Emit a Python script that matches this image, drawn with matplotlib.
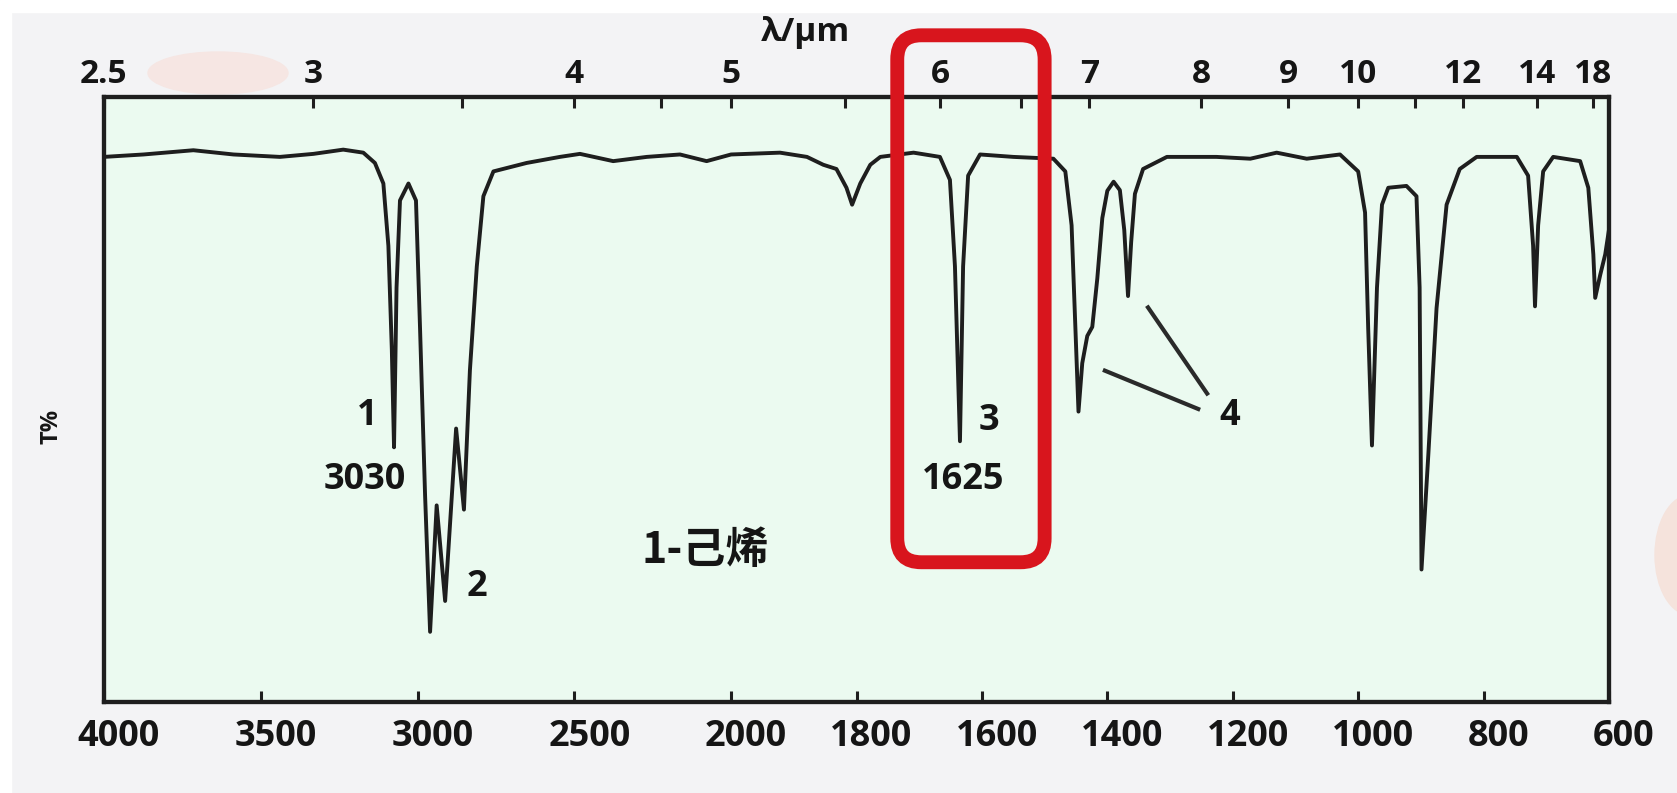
import numpy as np
import matplotlib.pyplot as plt
from matplotlib.patches import FancyBboxPatch, Ellipse, Rectangle
from matplotlib.transforms import ScaledTranslation, IdentityTransform

plt.rcParams['font.family'] = ['Open Sans', 'Noto Sans CJK SC', 'DejaVu Sans']
plt.rcParams['font.weight'] = 'bold'

# IR spectrum of 1-hexene (cm-1, T%)
wavenumber = [4000, 3874, 3715, 3587, 3439, 3332, 3237, 3173, 3136, 3109, 3093, 3082, 3075,
              3067, 3056, 3029, 3005, 2992, 2976, 2960, 2939, 2912, 2877, 2852, 2833,
              2811, 2790, 2758, 2652, 2546, 2482, 2376, 2269, 2163, 2078, 2000,
              1922, 1879, 1853, 1832, 1816, 1807, 1794, 1778, 1762, 1709,
              1667, 1651, 1643, 1635, 1630, 1622, 1603, 1550, 1486,
              1467, 1457, 1446, 1440, 1432, 1424, 1416, 1408, 1400, 1390,
              1380, 1373, 1367, 1362, 1356, 1343, 1305, 1226, 1172, 1130, 1082, 1029,
              1000, 989, 984, 978, 970, 962, 952, 923, 907, 902, 899,
              888, 875, 859, 838, 811, 747, 729, 721, 718, 713, 705, 689,
              646, 633, 625, 622, 614, 606, 600]
transmittance = [90.1, 90.5, 91.2, 90.5, 90.1, 90.6, 91.3, 90.8, 89.1, 85.7, 75.4, 58.2, 42.1,
                 68.5, 82.9, 85.7, 82.9, 61.7, 34.2, 11.6, 32.5, 16.7, 45.2, 31.8, 54.8,
                 72.0, 83.6, 87.7, 89.1, 90.1, 90.6, 89.4, 90.1, 90.5, 89.4, 90.5,
                 90.8, 90.1, 88.8, 88.1, 85.0, 82.2, 85.7, 88.8, 90.1, 90.8,
                 90.1, 86.3, 72.0, 43.1, 72.0, 87.0, 90.5, 90.1, 89.8,
                 87.7, 78.8, 48.0, 56.0, 60.5, 62.0, 70.0, 80.0, 84.5, 86.0,
                 84.6, 78.0, 67.1, 76.0, 84.0, 88.1, 90.1, 90.1, 89.8, 90.8, 89.8, 90.5,
                 87.7, 80.9, 61.7, 42.4, 68.5, 82.2, 85.0, 85.3, 83.6, 68.5, 21.9,
                 41.1, 65.1, 82.2, 88.1, 90.1, 90.1, 87.0, 75.4, 65.4, 78.8, 87.7, 90.1,
                 89.4, 85.0, 74.0, 66.8, 70.6, 74.0, 78.1]

bottom_ticks = [4000, 3500, 3000, 2500, 2000, 1800, 1600, 1400, 1200, 1000, 800, 600]
top_um = [2.5, 3, 4, 5, 6, 7, 8, 9, 10, 12, 14, 16]
top_labels = ['2.5', '3', '4', '5', '6', '7', '8', '9', '10', '12', '14', '18']
top_minor_um = [3.5, 4.5, 5.5, 6.5, 11]

# peak labels: (text, wavenumber, T%)
peak_text = ['1', '3030', '2', '3', '1625', '4']
peak_w = [3161, 3168, 2810, 1589, 1630, 1204]
peak_t = [47.3, 36.7, 19.0, 46.4, 36.7, 47.3]
# leader lines from "4" to the two bending bands
lead_w = [(1337, 1239), (1407, 1252)]
lead_t = [(65.5, 50.7), (54.9, 48.3)]


def fwd(w):
    # chart paper: scale doubles below 2000 cm-1
    w = np.asarray(w, dtype=float)
    return np.where(w > 2000, 2000 + (w - 2000) / 2, w)


def inv(f):
    f = np.asarray(f, dtype=float)
    return np.where(f > 2000, 2000 + (f - 2000) * 2, f)


ink = '#1e1e1e'
fig = plt.figure(figsize=(16.77, 7.93), dpi=100)
fig.patch.set_facecolor('#f3f3f5')

# white scan margin and faint stains
fig.add_artist(Rectangle((0, 1 - 12 / 793), 1, 12 / 793, transform=fig.transFigure,
                         color='white', zorder=-2))
fig.add_artist(Rectangle((0, 0), 11 / 1677, 1, transform=fig.transFigure,
                         color='white', zorder=-2))
fig.add_artist(Ellipse((218, 793 - 73), 140, 42, transform=IdentityTransform(),
                       color='#f6e6e3', zorder=-1))
fig.add_artist(Ellipse((1690, 793 - 555), 70, 120, transform=IdentityTransform(),
                       color='#f5e3dc', zorder=-1))

ax = fig.add_axes([104 / 1677, 91 / 793, 1505 / 1677, 605 / 793])
ax.set_facecolor('#ebfaf0')
ax.set_xscale('function', functions=(fwd, inv))
ax.set_xlim(4000, 600)
ax.set_ylim(0, 100)

ax.plot(wavenumber, transmittance, color=ink, lw=2.8, solid_joinstyle='round')

ax.set_xticks(bottom_ticks)
ax.set_xticklabels([str(t) for t in bottom_ticks])
ax.set_yticks([])
ax.tick_params(axis='x', direction='in', length=8, width=2.2, pad=12,
               labelsize=26, color=ink, labelcolor='#151515')
shift = ScaledTranslation(0.15, 0, fig.dpi_scale_trans)
for lab in ax.get_xticklabels():
    lab.set_transform(lab.get_transform() + shift)

for s in ax.spines.values():
    s.set_linewidth(3)
    s.set_color(ink)

ax.set_ylabel('T%', fontsize=17, fontweight='bold', color='#151515')
ax.yaxis.set_label_coords(-0.0352, 0.456)
ax.yaxis.label.set_va('center')

ax2 = ax.twiny()
ax2.set_xscale('function', functions=(fwd, inv))
ax2.set_xlim(4000, 600)
ax2.set_xticks([10000 / l for l in top_um])
ax2.set_xticklabels(top_labels)
ax2.set_xticks([10000 / l for l in top_minor_um], minor=True)
ax2.tick_params(axis='x', which='both', direction='in', length=8, width=2.2, pad=4,
                labelsize=24, color=ink, labelcolor='#151515')
for s in ax2.spines.values():
    s.set_linewidth(3)
    s.set_color(ink)
ax2.set_xlabel('λ/μm', fontsize=24, fontweight='bold', color='#151515')
ax2.xaxis.set_label_coords(0.4664, 1.107)
ax2.xaxis.label.set_va('center')

for txt, w, t in zip(peak_text, peak_w, peak_t):
    ax.text(w, t, txt, fontsize=26, fontweight='bold', color='#151515',
            ha='center', va='center')
for (w0, w1), (t0, t1) in zip(lead_w, lead_t):
    ax.plot([w0, w1], [t0, t1], color='#2a2a2a', lw=3, solid_capstyle='butt')

ax.text(2083, 25.1, '1-己烯', fontsize=31, fontweight='bold', color='#151515',
        family=['Noto Sans CJK SC', 'DejaVu Sans'], ha='center', va='center')

# red highlight box round the C=C stretch
x0, y0 = ax.transData.transform((1735, 23.1))
x1, y1 = ax.transData.transform((1500, 110.2))
box = FancyBboxPatch((x0, y0), x1 - x0, y1 - y0,
                     boxstyle='round,pad=0,rounding_size=24',
                     transform=IdentityTransform(), fill=False,
                     ec='#d8151d', lw=10, zorder=10)
fig.add_artist(box)

fig.savefig('out.png', dpi=100)
